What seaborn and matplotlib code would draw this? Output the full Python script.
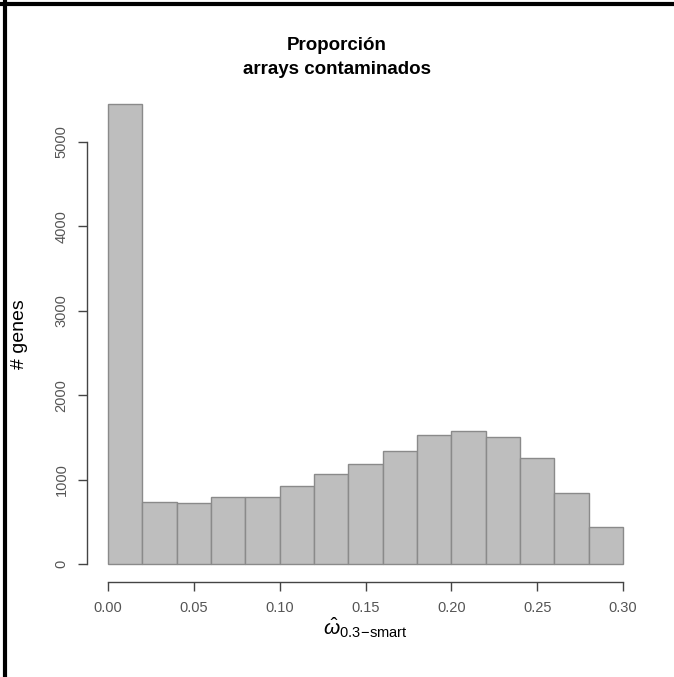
import numpy as np
import pandas as pd
import matplotlib
matplotlib.use("Agg")
import matplotlib.pyplot as plt
from matplotlib.lines import Line2D
import seaborn as sns

# histogram of omega-hat (bins of width 0.02)
bin_edges = [0.00, 0.02, 0.04, 0.06, 0.08, 0.10, 0.12, 0.14, 0.16,
             0.18, 0.20, 0.22, 0.24, 0.26, 0.28, 0.30]
counts = [5450, 730, 720, 790, 790, 925, 1065, 1185, 1340, 1530,
          1580, 1510, 1255, 840, 435]
x_ticks = [0.00, 0.05, 0.10, 0.15, 0.20, 0.25, 0.30]
y_ticks = [0, 1000, 2000, 3000, 4000, 5000]

sns.set_style("white")
plt.rcParams['font.family'] = ['Liberation Sans', 'DejaVu Sans']
plt.rcParams['text.color'] = 'black'
plt.rcParams['axes.labelcolor'] = 'black'
plt.rcParams['mathtext.fontset'] = 'custom'
plt.rcParams['mathtext.rm'] = 'Liberation Sans'
plt.rcParams['mathtext.it'] = 'Liberation Sans:italic'

mids = [(a + b) / 2 for a, b in zip(bin_edges[:-1], bin_edges[1:])]
df = pd.DataFrame({'omega': mids, 'n': counts})

fig = plt.figure(figsize=(6.74, 6.77), dpi=100)
ax = fig.add_axes([0.1297, 0.1397, 0.8252, 0.7339])

sns.histplot(data=df, x='omega', weights='n', bins=bin_edges, ax=ax,
             color='#bebebe', edgecolor='#8a8a8a', linewidth=1.0, alpha=1)

ax.set_xlim(-0.012, 0.312)
ax.set_ylim(-218, 5668)

for s in ['top', 'right']:
    ax.spines[s].set_visible(False)
for s in ['left', 'bottom']:
    ax.spines[s].set_color('#444444')
    ax.spines[s].set_linewidth(1.0)
ax.spines['bottom'].set_bounds(0, 0.30)
ax.spines['left'].set_bounds(0, 5000)

ax.set_xticks(x_ticks)
ax.set_xticklabels([f"{v:.2f}" for v in x_ticks])
ax.set_yticks(y_ticks)
ax.set_yticklabels([str(v) for v in y_ticks], rotation=90, va='center')
ax.tick_params(axis='both', direction='out', length=6.5, width=1.0,
               color='#444444', labelcolor='#555555', labelsize=10.5,
               left=True, bottom=True)
ax.tick_params(axis='x', pad=7)
ax.tick_params(axis='y', pad=7)

ax.set_xlabel(r'$\hat{\omega}_{\mathrm{0.3\!-\!smart}}$', fontsize=15, labelpad=0)
ax.set_ylabel('# genes', fontsize=14)
ax.yaxis.set_label_coords(-0.106, 0.5)

fig.text(0.5, 1 - 45 / 677, 'Proporción', ha='center', va='center',
         fontsize=13.5, fontweight='bold', color='black')
fig.text(0.5, 1 - 69 / 677, 'arrays contaminados', ha='center', va='center',
         fontsize=13.5, fontweight='bold', color='black')

# black frame (top and left edges)
fig.add_artist(Line2D([0, 1], [1 - 3.5 / 677, 1 - 3.5 / 677], color='black',
                      linewidth=3, transform=fig.transFigure))
fig.add_artist(Line2D([4.5 / 674, 4.5 / 674], [0, 1], color='black',
                      linewidth=3, transform=fig.transFigure))

fig.savefig('out.png', dpi=100)
